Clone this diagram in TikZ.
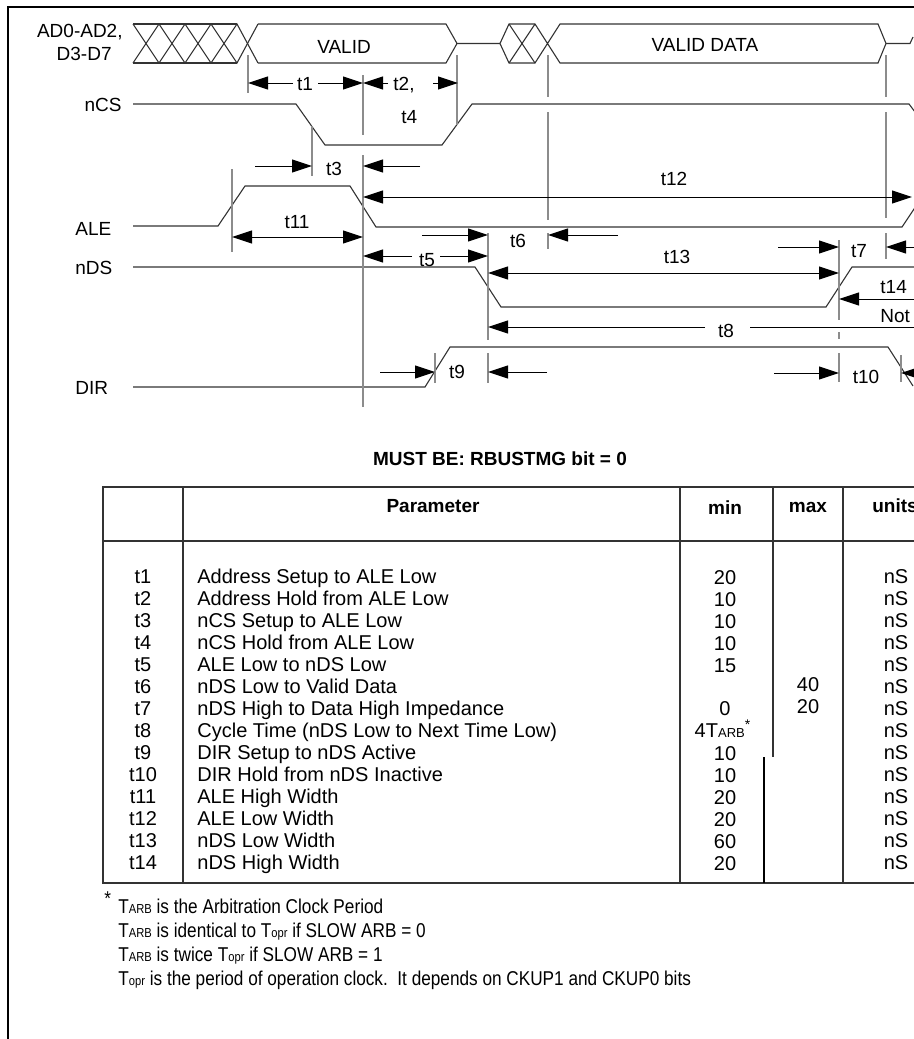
\documentclass[tikz,border=0pt]{standalone}
\usepackage{fontspec}
\setmainfont{Liberation Sans}
\newfontfamily\narrowfont[FakeStretch=0.86]{Liberation Sans}
\usetikzlibrary{arrows.meta}
\tikzstyle{sig} = [line width=0.55pt, draw=black!80]
\tikzstyle{guide} = [line width=0.75pt, draw=black!45]
\tikzstyle{arrow} = [line width=0.5pt, -{Triangle[length=10pt,width=6.5pt]}]
\tikzstyle{darrow} = [line width=0.5pt, {Triangle[length=10pt,width=6.5pt]}-{Triangle[length=10pt,width=6.5pt]}]
\tikzstyle{lbl} = [inner sep=0pt, anchor=base, font=\fontsize{9.5}{11}\selectfont]
\tikzstyle{cell} = [inner sep=0pt, anchor=base, font=\fontsize{10}{11}\selectfont]
\tikzstyle{head} = [inner sep=0pt, anchor=base, font=\fontsize{9.5}{11}\selectfont\bfseries]
\tikzstyle{note} = [inner sep=0pt, anchor=base west, font=\narrowfont\fontsize{10}{11}\selectfont]
\tikzstyle{rule} = [line width=0.6pt, draw=black!80]
\newcommand{\tarb}{T{\fontsize{6.5}{7}\selectfont ARB}}
\newcommand{\topr}{T{\fontsize{6.5}{7}\selectfont opr}}

\begin{document}
\begin{tikzpicture}[x=0.5pt, y=-0.5pt]
\useasboundingbox (0,0) rectangle (914,1039);
\clip (0,0) rectangle (914,1039);

%% FRAME

\draw[line width=1pt] (8,1045) -- (8,7) -- (920,7);

%% SIGNAL NAMES

\node (ad_label) [lbl, anchor=base east] at (123,37) {AD0-AD2,};
\node (d_label) [lbl, anchor=base east] at (112,60) {D3-D7};
\node (ncs_label) [lbl, anchor=base east] at (122,111) {nCS};
\node (ale_label) [lbl, anchor=base west] at (75,235) {ALE};
\node (nds_label) [lbl, anchor=base west] at (75,274) {nDS};
\node (dir_label) [lbl, anchor=base west] at (75,394) {DIR};

%% WAVES

% bus
\draw[sig] (133,24) -- (237,24) (133,63) -- (237,63);
\draw[sig] (133,24) -- (159,63) -- (185,24) -- (211,63) -- (237,24) -- (258,63);
\draw[sig] (133,63) -- (159,24) -- (185,63) -- (211,24) -- (237,63) -- (258,24);
\draw[sig] (258,24) -- (446,24) -- (457,43.5) -- (446,63) -- (258,63);
\draw[sig] (457,43.5) -- (500,43.5) -- (509,24) -- (535,24) -- (560,63) -- (878,63) -- (886,43.5) -- (878,24) -- (560,24) -- (535,63) -- (509,63) -- (500,43.5);
\draw[sig] (509,24) -- (535,63) (509,63) -- (535,24);
\draw[sig] (886,43.5) -- (910,43.5) -- (913,37);
\node (valid) [lbl] at (344,53) {VALID};
\node (valid_data) [lbl] at (705,51) {VALID DATA};

% control lines
\draw[sig] (133,104) -- (296,104) -- (325,145) -- (442,145) -- (472,104) -- (909,104) -- (915,112);
\draw[sig] (133,226) -- (218,226) -- (245,186) -- (350,186) -- (376,227) -- (902,227) -- (916,206);
\draw[sig] (133,267) -- (475,267) -- (501,307) -- (826,307) -- (852,267) -- (920,267);
\draw[sig] (133,387) -- (425,387) -- (450,347) -- (888,347) -- (913,386);

%% GUIDES

\draw[guide] (248,55) -- (248,93);
\draw[guide] (363,75) -- (363,135) (363,155) -- (363,407);
\draw[guide] (457,55) -- (457,125);
\draw[guide] (312,126) -- (312,176);
\draw[guide] (232,169) -- (232,252);
\draw[guide] (548,55) -- (548,97) (548,112) -- (548,220) (548,233) -- (548,249);
\draw[guide] (886,55) -- (886,97) (886,112) -- (886,218) (886,233) -- (886,259);
\draw[guide] (488,233) -- (488,340) (488,353) -- (488,383);
\draw[guide] (839,240) -- (839,320) (839,332) -- (839,339) (839,353) -- (839,382);
\draw[guide] (435,353) -- (435,383);
\draw[guide] (901,355) -- (901,382);

%% ARROWS

\draw[arrow] (293,83) -- (248,83);
\draw[arrow] (318,83) -- (363,83);
\node (t1_lbl) [lbl] at (305,90) {t1};
\draw[arrow] (388,83) -- (363,83);
\draw[arrow] (433,83) -- (458,83);
\node (t2_lbl) [lbl, anchor=base west] at (393,90) {t2,};
\node (t4_lbl) [lbl, anchor=base west] at (401,123) {t4};
\draw[arrow] (255,166) -- (312,166);
\draw[arrow] (420,166) -- (363,166);
\node (t3_lbl) [lbl] at (334,175) {t3};
\draw[darrow] (363,197) -- (912,197);
\node (t12_lbl) [lbl] at (674,185) {t12};
\draw[darrow] (232,237) -- (363,237);
\node (t11_lbl) [lbl] at (297,228) {t11};
\draw[arrow] (412,256) -- (363,256);
\draw[arrow] (440,256) -- (488,256);
\node (t5_lbl) [lbl] at (427,266) {t5};
\draw[arrow] (422,235) -- (488,235);
\draw[arrow] (618,235) -- (548,235);
\node (t6_lbl) [lbl] at (518,247) {t6};
\draw[darrow] (488,273) -- (839,273);
\node (t13_lbl) [lbl] at (677,263) {t13};
\draw[arrow] (778,247) -- (839,247);
\draw[arrow] (925,247) -- (886,247);
\node (t7_lbl) [lbl] at (859,257) {t7};
\draw[arrow] (925,299) -- (839,299);
\node (t14_lbl) [lbl, anchor=base west] at (880,293) {t14};
\node (note_lbl) [lbl, anchor=base west] at (880,322) {Not};
\draw[arrow] (705,327) -- (488,327);
\draw[line width=0.5pt] (750,327) -- (925,327);
\node (t8_lbl) [lbl] at (726,337) {t8};
\draw[arrow] (380,372) -- (435,372);
\draw[arrow] (547,372) -- (488,372);
\node (t9_lbl) [lbl] at (457,378) {t9};
\draw[arrow] (774,373) -- (839,373);
\draw[arrow] (925,373) -- (901,373);
\node (t10_lbl) [lbl] at (866,383) {t10};

%% TABLE

\node (title) [head] at (500,465) {MUST BE: RBUSTMG bit = 0};
\draw[rule] (925,487) -- (103,487) -- (103,883) -- (925,883);
\draw[rule] (103,541) -- (925,541);
\draw[rule] (183,487) -- (183,883);
\draw[rule] (680,487) -- (680,883);
\draw[rule] (773,487) -- (773,757);
\draw[line width=0.9pt] (764,757) -- (764,883);
\draw[rule] (843,487) -- (843,883);

\node (h_par) [head] at (433,512) {Parameter};
\node (h_min) [head] at (725,514) {min};
\node (h_max) [head] at (808,512) {max};
\node (h_units) [head] at (895,512) {units};

\node (r1) [cell] at (143,583) {t1};
\node (p1) [cell, anchor=base west] at (197,583) {Address Setup to ALE Low};
\node (m1) [cell] at (725,584.5) {20};
\node (u1) [cell] at (896,583) {nS};
\node (r2) [cell] at (143,605) {t2};
\node (p2) [cell, anchor=base west] at (197,605) {Address Hold from ALE Low};
\node (m2) [cell] at (725,606.5) {10};
\node (u2) [cell] at (896,605) {nS};
\node (r3) [cell] at (143,627) {t3};
\node (p3) [cell, anchor=base west] at (197,627) {nCS Setup to ALE Low};
\node (m3) [cell] at (725,628.5) {10};
\node (u3) [cell] at (896,627) {nS};
\node (r4) [cell] at (143,649) {t4};
\node (p4) [cell, anchor=base west] at (197,649) {nCS Hold from ALE Low};
\node (m4) [cell] at (725,650.5) {10};
\node (u4) [cell] at (896,649) {nS};
\node (r5) [cell] at (143,671) {t5};
\node (p5) [cell, anchor=base west] at (197,671) {ALE Low to nDS Low};
\node (m5) [cell] at (725,672.5) {15};
\node (u5) [cell] at (896,671) {nS};
\node (r6) [cell] at (143,693) {t6};
\node (p6) [cell, anchor=base west] at (197,693) {nDS Low to Valid Data};
\node (x6) [cell] at (808,691.5) {40};
\node (u6) [cell] at (896,693) {nS};
\node (r7) [cell] at (143,715) {t7};
\node (p7) [cell, anchor=base west] at (197,715) {nDS High to Data High Impedance};
\node (m7) [cell] at (725,715) {0};
\node (x7) [cell] at (808,713.5) {20};
\node (u7) [cell] at (896,715) {nS};
\node (r8) [cell] at (143,737) {t8};
\node (p8) [cell, anchor=base west] at (197,737) {Cycle Time (nDS Low to Next Time Low)};
\node (m8) [cell] at (723,737) {4\tarb\textsuperscript{*}};
\node (u8) [cell] at (896,737) {nS};
\node (r9) [cell] at (143,759) {t9};
\node (p9) [cell, anchor=base west] at (197,759) {DIR Setup to nDS Active};
\node (m9) [cell] at (725,760.5) {10};
\node (u9) [cell] at (896,759) {nS};
\node (r10) [cell] at (143,781) {t10};
\node (p10) [cell, anchor=base west] at (197,781) {DIR Hold from nDS Inactive};
\node (m10) [cell] at (725,782.5) {10};
\node (u10) [cell] at (896,781) {nS};
\node (r11) [cell] at (143,803) {t11};
\node (p11) [cell, anchor=base west] at (197,803) {ALE High Width};
\node (m11) [cell] at (725,804.5) {20};
\node (u11) [cell] at (896,803) {nS};
\node (r12) [cell] at (143,825) {t12};
\node (p12) [cell, anchor=base west] at (197,825) {ALE Low Width};
\node (m12) [cell] at (725,826.5) {20};
\node (u12) [cell] at (896,825) {nS};
\node (r13) [cell] at (143,847) {t13};
\node (p13) [cell, anchor=base west] at (197,847) {nDS Low Width};
\node (m13) [cell] at (725,848.5) {60};
\node (u13) [cell] at (896,847) {nS};
\node (r14) [cell] at (143,869) {t14};
\node (p14) [cell, anchor=base west] at (197,869) {nDS High Width};
\node (m14) [cell] at (725,870.5) {20};
\node (u14) [cell] at (896,869) {nS};

%% NOTES

\node (star) [note] at (104,905) {*};
\node (n1) [note] at (118,913) {\tarb{} is the Arbitration Clock Period};
\node (n2) [note] at (118,937) {\tarb{} is identical to \topr{} if SLOW ARB = 0};
\node (n3) [note] at (118,961) {\tarb{} is twice \topr{} if SLOW ARB = 1};
\node (n4) [note] at (118,985) {\topr{} is the period of operation clock.\ \ It depends on CKUP1 and CKUP0 bits};

\end{tikzpicture}
\end{document}
